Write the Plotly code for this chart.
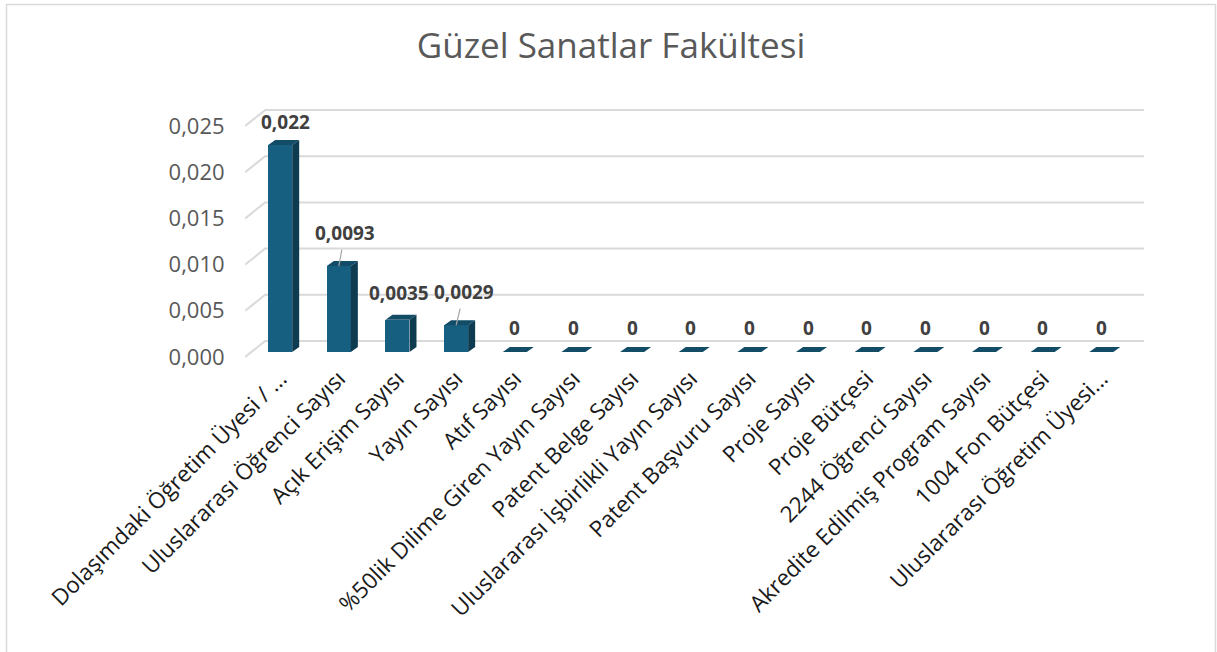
import plotly.graph_objects as go

# ---------------- data ----------------
categories = [
    "Dolaşımdaki Öğretim Üyesi / ...",
    "Uluslararası Öğrenci Sayısı",
    "Açık Erişim Sayısı",
    "Yayın Sayısı",
    "Atıf Sayısı",
    "%50lik Dilime Giren Yayın Sayısı",
    "Patent Belge Sayısı",
    "Uluslararası İşbirlikli Yayın Sayısı",
    "Patent Başvuru Sayısı",
    "Proje Sayısı",
    "Proje Bütçesi",
    "2244 Öğrenci Sayısı",
    "Akredite Edilmiş Program Sayısı",
    "1004 Fon Bütçesi",
    "Uluslararası Öğretim Üyesi...",
]
values = [0.0224, 0.0093, 0.0035, 0.0029, 0, 0, 0, 0, 0, 0, 0, 0, 0, 0, 0]
y_ticks = [0.000, 0.005, 0.010, 0.015, 0.020, 0.025]
title_text = "Güzel Sanatlar Fakültesi"

# ---------------- layout / style constants ----------------
W, H = 1217, 652
ML, MR, MT, MB = 245, 72, 100, 292
XR = [-0.6, 14.745]
YR = [-0.000325, 0.02781]
plot_w = W - ML - MR
plot_h = H - MT - MB
px_x = plot_w / (XR[1] - XR[0])      # pixels per x unit
px_y = plot_h / (YR[1] - YR[0])      # pixels per y unit

FRONT = "#175f80"
SIDE = "#0d3b50"
TOP = "#124c67"
GRID = "#d9d9d9"

bar_w = 24 / px_x
bar_base = 5 / px_y          # bars stand slightly behind the front edge of the floor
depth_dx = 7 / px_x          # bar depth (3-D look)
depth_dy = 5 / px_y
floor_dx = 20 / px_x         # floor / wall depth
floor_dy = 16 / px_y
x_left = XR[0] + 0.003
x_right = XR[0] + (1144 - ML) / px_x

# label offsets (pixels) relative to the top-centre of each bar's front face
label_dx = [5, 6, 2, 8] + [0] * 11
label_dy = [23, 33, 27, 33] + [24] * 11
label_arrow = [False, True, False, True] + [False] * 11

FONT = "'Open Sans', Roboto, sans-serif"

fig = go.Figure()

# front faces
fig.add_trace(go.Bar(
    x=list(range(len(categories))), y=values, base=bar_base, width=bar_w,
    marker=dict(color=FRONT, line=dict(width=0)), hoverinfo="skip", showlegend=False,
))

# side and top faces
sx, sy, tx, ty = [], [], [], []
for i, v in enumerate(values):
    r = i + bar_w / 2
    l = i - bar_w / 2
    top = bar_base + v
    sx += [r, r, r + depth_dx, r + depth_dx, r, None]
    sy += [bar_base, top, top + depth_dy, bar_base + depth_dy, bar_base, None]
    tx += [l, r, r + depth_dx, l + depth_dx, l, None]
    ty += [top, top, top + depth_dy, top + depth_dy, top, None]

fig.add_trace(go.Scatter(x=sx, y=sy, mode="lines", fill="toself", fillcolor=SIDE,
                         line=dict(width=0, color=SIDE), hoverinfo="skip", showlegend=False))
fig.add_trace(go.Scatter(x=tx, y=ty, mode="lines", fill="toself", fillcolor=TOP,
                         line=dict(width=0, color=TOP), hoverinfo="skip", showlegend=False))

# 3-D gridlines (front edge -> back wall)
shapes = []
for v in y_ticks:
    path = (f"M {x_left},{v} L {x_left + floor_dx},{v + floor_dy} "
            f"L {x_right},{v + floor_dy}")
    shapes.append(dict(type="path", path=path, xref="x", yref="y", layer="below",
                       line=dict(color=GRID, width=2)))

# chart border
def to_paper_x(px):
    return (px - ML) / plot_w

def to_paper_y(py):
    return (H - MB - py) / plot_h

shapes.append(dict(type="rect", xref="paper", yref="paper",
                   x0=to_paper_x(6.5), x1=to_paper_x(1215.5),
                   y0=to_paper_y(670), y1=to_paper_y(4.5),
                   line=dict(color="#d9d9d9", width=1.5), layer="below"))

# data labels
def fmt(v):
    return f"{v:.2g}".replace(".", ",")

annotations = []
for i, v in enumerate(values):
    base = dict(x=i, y=bar_base + v, xref="x", yref="y", text=f"<b>{fmt(v)}</b>",
                font=dict(family=FONT, size=19, color="#404040"))
    if label_arrow[i]:
        base.update(showarrow=True, ax=label_dx[i], ay=-label_dy[i], axref="pixel",
                    ayref="pixel", arrowhead=0, arrowwidth=1.2, arrowcolor="#a6a6a6",
                    borderpad=3)
    else:
        base.update(showarrow=False, xshift=label_dx[i], yshift=label_dy[i],
                    yanchor="middle", xanchor="center")
    annotations.append(base)

fig.update_layout(
    width=W, height=H, autosize=False,
    margin=dict(l=ML, r=MR, t=MT, b=MB),
    paper_bgcolor="white", plot_bgcolor="white",
    separators=",.",
    title=dict(text=title_text, x=611 / W, xref="container", xanchor="center",
               y=1 - 46 / H, yref="container", yanchor="middle",
               font=dict(family=FONT, size=35, color="#595959")),
    xaxis=dict(range=XR, tickmode="array", tickvals=list(range(len(categories))),
               ticktext=categories, tickangle=-45, showgrid=False, zeroline=False,
               showline=False, ticks="", fixedrange=True,
               tickfont=dict(family=FONT, size=22.5, color="#1a1a1a")),
    yaxis=dict(range=YR, tickmode="array", tickvals=y_ticks, tickformat=".3f",
               showgrid=False, zeroline=False, showline=False, ticks="outside",
               ticklen=15, tickcolor="rgba(0,0,0,0)", fixedrange=True,
               tickfont=dict(family=FONT, size=22, color="#595959")),
    shapes=shapes,
    annotations=annotations,
    bargap=0,
)

fig.write_html("out.html", config={"displayModeBar": False},
               post_script="document.body.style.margin='0';")
